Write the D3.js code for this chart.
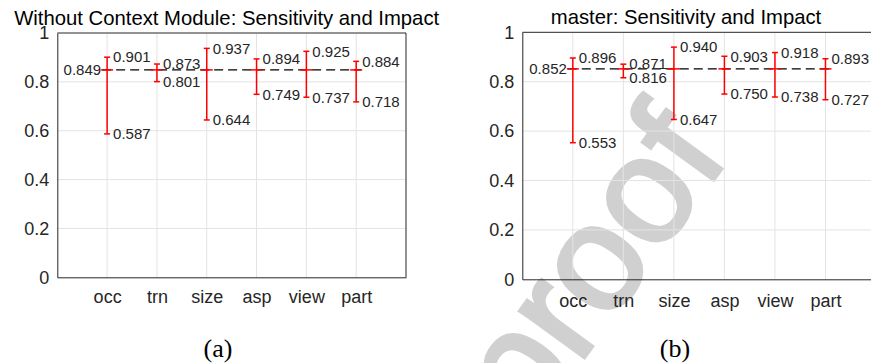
<!DOCTYPE html>
<html>
<head>
<meta charset="utf-8">
<script src="https://cdn.jsdelivr.net/npm/d3@7"></script>
<style>
  body { margin: 0; background: #fff; }
  text { font-family: "Liberation Sans", Arial, Helvetica, sans-serif; fill: #262626; }
</style>
</head>
<body>
<div class="chart"></div>
<script>
var svgWidth = 871;
var svgHeight = 363;

// categories and values
var categories = ["occ", "trn", "size", "asp", "view", "part"];
var yTicks = [0, 0.2, 0.4, 0.6, 0.8, 1];

var meanA = 0.849;
var maxA = [0.901, 0.873, 0.937, 0.894, 0.925, 0.884];
var minA = [0.587, 0.801, 0.644, 0.749, 0.737, 0.718];

var meanB = 0.852;
var maxB = [0.896, 0.871, 0.940, 0.903, 0.918, 0.893];
var minB = [0.553, 0.816, 0.647, 0.750, 0.738, 0.727];

var svg = d3.select(".chart")
  .append("svg")
  .attr("width", svgWidth)
  .attr("height", svgHeight);

// "proof" watermark sits behind the right panel
svg.append("text")
  .attr("transform", "translate(597, 271) rotate(-54)")
  .attr("text-anchor", "middle")
  .attr("dy", "0.27em")
  .style("font-size", "150px")
  .style("fill", "#d0d0d0")
  .style("stroke", "#d0d0d0")
  .style("stroke-width", 4)
  .text("proof");

function drawPanel(opts) {
  var x = d3.scaleLinear().domain([0, 7]).range([opts.left, opts.right]);
  var y = d3.scaleLinear().domain([0, 1]).range([opts.bottom, opts.top]);
  var g = svg.append("g");

  // grid
  g.selectAll(".vgrid")
    .data(categories)
    .enter()
    .append("line")
    .attr("x1", (d, i) => x(i + 1))
    .attr("x2", (d, i) => x(i + 1))
    .attr("y1", y(0))
    .attr("y2", y(1))
    .attr("stroke", "#e3e3e3");

  g.selectAll(".hgrid")
    .data(yTicks.slice(1, -1))
    .enter()
    .append("line")
    .attr("x1", x(0))
    .attr("x2", x(7))
    .attr("y1", d => y(d))
    .attr("y2", d => y(d))
    .attr("stroke", "#e3e3e3");

  // axes (box on)
  var leftAxis = d3.axisLeft(y).tickValues(yTicks).tickSize(0).tickPadding(8)
    .tickFormat(d => d3.format("~g")(d));
  var bottomAxis = d3.axisBottom(x).tickValues(d3.range(1, 7)).tickSize(0).tickPadding(opts.xPad)
    .tickFormat(d => categories[d - 1]);

  var ya = g.append("g")
    .attr("transform", `translate(${x(0)},0)`)
    .call(leftAxis);
  ya.select(".domain").attr("stroke", "#262626");
  ya.selectAll("text").style("font-size", "18px").style("fill", "#262626");

  var xa = g.append("g")
    .attr("transform", `translate(0,${y(0)})`)
    .call(bottomAxis);
  xa.select(".domain").attr("stroke", "#262626");
  xa.selectAll("text").style("font-size", "18px").style("fill", "#262626");

  g.append("line")
    .attr("x1", x(0)).attr("x2", x(7))
    .attr("y1", y(1)).attr("y2", y(1))
    .attr("stroke", "#262626");
  g.append("line")
    .attr("x1", x(7)).attr("x2", x(7))
    .attr("y1", y(0)).attr("y2", y(1))
    .attr("stroke", "#262626");

  // mean dashed line
  g.append("line")
    .attr("x1", x(0.9)).attr("x2", x(6.1))
    .attr("y1", y(opts.mean)).attr("y2", y(opts.mean))
    .attr("stroke", "#000")
    .attr("stroke-width", 1.3)
    .attr("stroke-dasharray", "9,5");

  // error bars
  var bars = g.selectAll(".bar")
    .data(categories)
    .enter()
    .append("g");

  bars.append("line")
    .attr("x1", (d, i) => x(i + 1))
    .attr("x2", (d, i) => x(i + 1))
    .attr("y1", (d, i) => y(opts.min[i]))
    .attr("y2", (d, i) => y(opts.max[i]))
    .attr("stroke", "red")
    .attr("stroke-width", 1.5);

  bars.append("line")
    .attr("x1", (d, i) => x(i + 1) - 3)
    .attr("x2", (d, i) => x(i + 1) + 3)
    .attr("y1", (d, i) => y(opts.max[i]))
    .attr("y2", (d, i) => y(opts.max[i]))
    .attr("stroke", "red")
    .attr("stroke-width", 1.5);

  bars.append("line")
    .attr("x1", (d, i) => x(i + 1) - 3)
    .attr("x2", (d, i) => x(i + 1) + 3)
    .attr("y1", (d, i) => y(opts.min[i]))
    .attr("y2", (d, i) => y(opts.min[i]))
    .attr("stroke", "red")
    .attr("stroke-width", 1.5);

  bars.append("line")
    .attr("x1", (d, i) => x(i + 1) - 6)
    .attr("x2", (d, i) => x(i + 1) + 6)
    .attr("y1", y(opts.mean))
    .attr("y2", y(opts.mean))
    .attr("stroke", "red")
    .attr("stroke-width", 1.5);

  // value labels
  bars.append("text")
    .attr("x", (d, i) => x(i + 1) + 6)
    .attr("y", (d, i) => y(opts.max[i]))
    .attr("dy", "0.35em")
    .style("font-size", "15px")
    .text((d, i) => d3.format(".3f")(opts.max[i]));

  bars.append("text")
    .attr("x", (d, i) => x(i + 1) + 6)
    .attr("y", (d, i) => y(opts.min[i]))
    .attr("dy", "0.35em")
    .style("font-size", "15px")
    .text((d, i) => d3.format(".3f")(opts.min[i]));

  g.append("text")
    .attr("x", x(1) - 6)
    .attr("y", y(opts.mean))
    .attr("dy", "0.35em")
    .attr("text-anchor", "end")
    .style("font-size", "15px")
    .text(d3.format(".3f")(opts.mean));

  // title and sub-caption
  g.append("text")
    .attr("x", opts.titleX)
    .attr("y", opts.titleY)
    .attr("text-anchor", "middle")
    .style("font-size", "20.3px")
    .style("fill", "#000")
    .text(opts.title);

  g.append("text")
    .attr("x", opts.capX)
    .attr("y", 357)
    .attr("text-anchor", "middle")
    .style("font-family", "'Liberation Serif', 'DejaVu Serif', serif")
    .style("font-size", "26px")
    .style("fill", "#000")
    .text(opts.caption);
}

drawPanel({
  left: 57.3, right: 406, top: 33, bottom: 277.3, xPad: 13,
  mean: meanA, max: maxA, min: minA,
  title: "Without Context Module: Sensitivity and Impact", titleX: 226.7, titleY: 25,
  caption: "(a)", capX: 218
});

drawPanel({
  left: 522.3, right: 876, top: 32.3, bottom: 279.3, xPad: 15,
  mean: meanB, max: maxB, min: minB,
  title: "master: Sensitivity and Impact", titleX: 686, titleY: 24,
  caption: "(b)", capX: 675
});
</script>
</body>
</html>
